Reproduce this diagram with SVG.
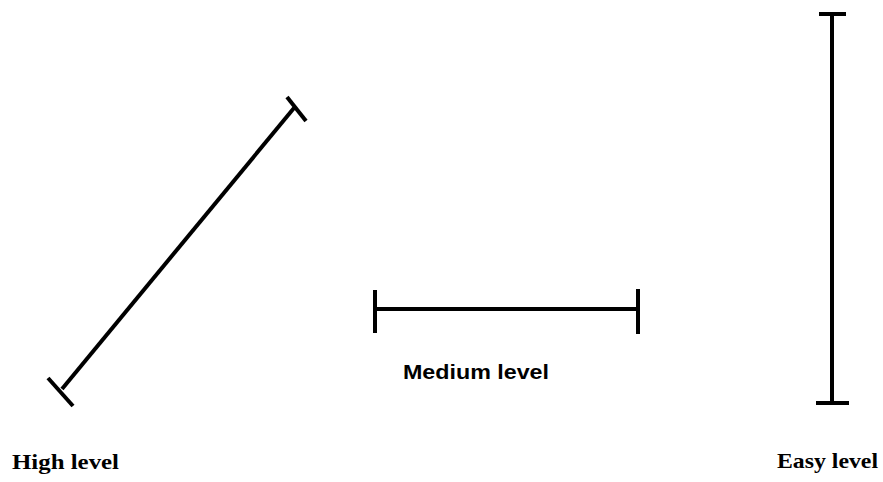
<svg xmlns="http://www.w3.org/2000/svg" width="883" height="482" viewBox="0 0 883 482">
<style>
.bar{stroke:#000;stroke-width:4;stroke-linecap:butt;fill:none}
.serif{font-family:"Liberation Serif","Times New Roman",serif;font-weight:bold;font-size:22px;fill:#000}
.sans{font-family:"Liberation Sans",Arial,sans-serif;font-weight:bold;font-size:21px;fill:#000}
</style>
<rect width="883" height="482" fill="#fff"/>
<g id="connectors">
<line class="bar" x1="62" y1="389" x2="294" y2="108"/>
<line class="bar" x1="375" y1="309" x2="638" y2="309"/>
<line class="bar" x1="832" y1="14" x2="832" y2="403"/>
</g>
<g id="high">
<line class="bar" x1="48" y1="378" x2="73" y2="406"/>
<line class="bar" x1="287" y1="97" x2="306" y2="121"/>
<text class="serif" x="12" y="469" textLength="107" lengthAdjust="spacingAndGlyphs">High level</text>
</g>
<g id="medium">
<line class="bar" x1="375" y1="290" x2="375" y2="333"/>
<line class="bar" x1="638" y1="289" x2="638" y2="334"/>
<text class="sans" x="403" y="379" textLength="146" lengthAdjust="spacingAndGlyphs">Medium level</text>
</g>
<g id="easy">
<line class="bar" x1="819" y1="14" x2="846" y2="14"/>
<line class="bar" x1="816" y1="403" x2="849" y2="403"/>
<text class="serif" x="777" y="468" textLength="101" lengthAdjust="spacingAndGlyphs">Easy level</text>
</g>
</svg>
